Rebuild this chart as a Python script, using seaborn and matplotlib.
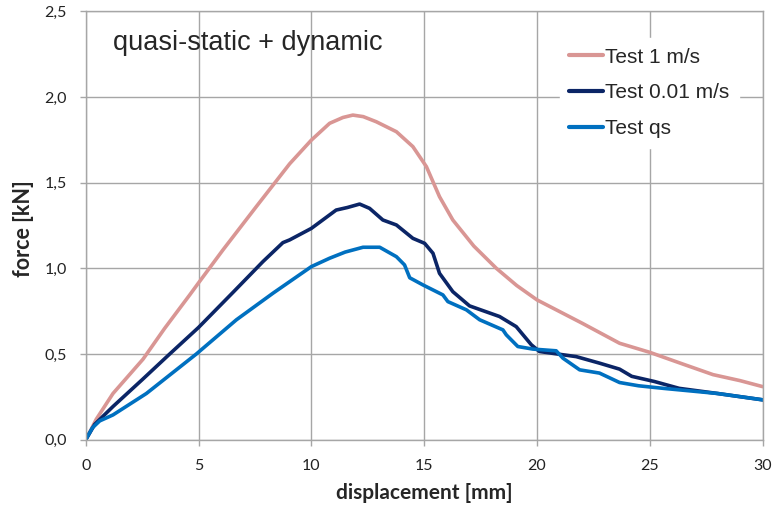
import pandas as pd
import matplotlib.pyplot as plt
import seaborn as sns
from matplotlib.ticker import FuncFormatter

# Valores (deslocamento em mm, força em kN)
x_1ms = [0, 0.2, 0.47, 1.21, 2.54, 3.5, 4.61, 5.0, 6.08, 7.56, 9.04, 10.0, 10.81, 11.4,
         11.84, 12.3, 12.88, 13.77, 14.5, 15.1, 15.68, 16.27, 17.2, 18.2, 19.1, 20.0,
         22.0, 23.66, 25.0, 26.5, 27.8, 29.0, 30.0]
f_1ms = [0, 0.05, 0.12, 0.27, 0.47, 0.65, 0.845, 0.915, 1.107, 1.36, 1.61, 1.748, 1.846, 1.88,
         1.894, 1.885, 1.855, 1.797, 1.71, 1.593, 1.418, 1.282, 1.13, 1.0, 0.9, 0.816,
         0.68, 0.563, 0.51, 0.44, 0.38, 0.345, 0.31]

x_001 = [0, 0.4, 1.21, 2.5, 3.72, 5.0, 6.53, 7.86, 8.74, 9.04, 10.0, 11.1, 11.6, 12.14, 12.58,
         13.17, 13.77, 14.5, 15.02, 15.39, 15.68, 16.27, 17.01, 18.34, 19.08, 19.75, 20.11,
         21.74, 22.77, 23.66, 24.2, 25.2, 26.3, 28.0, 30.0]
f_001 = [0, 0.09, 0.194, 0.35, 0.5, 0.655, 0.86, 1.04, 1.15, 1.166, 1.233, 1.34, 1.355, 1.375,
         1.35, 1.282, 1.253, 1.175, 1.146, 1.088, 0.971, 0.864, 0.781, 0.719, 0.66, 0.554,
         0.515, 0.485, 0.447, 0.412, 0.37, 0.34, 0.30, 0.27, 0.233]

x_qs = [0, 0.3, 0.62, 1.21, 2.69, 4.9, 6.68, 8.3, 10.0, 10.81, 11.5, 12.29, 13.03, 13.77,
        14.13, 14.36, 14.95, 15.83, 16.05, 16.87, 17.46, 18.49, 18.64, 19.15, 19.82, 20.85,
        21.15, 21.89, 22.77, 23.66, 24.5, 25.6, 28.0, 30.0]
f_qs = [0, 0.07, 0.11, 0.145, 0.27, 0.5, 0.70, 0.855, 1.01, 1.059, 1.095, 1.123, 1.123, 1.068,
        1.02, 0.945, 0.903, 0.845, 0.806, 0.758, 0.70, 0.641, 0.612, 0.544, 0.529, 0.519,
        0.476, 0.408, 0.389, 0.334, 0.315, 0.30, 0.27, 0.233]

series_names = ["Test 1 m/s", "Test 0.01 m/s", "Test qs"]
cores = ["#D99694", "#0B2566", "#0070C0"]

df = pd.concat([
    pd.DataFrame({"desl": x_1ms, "forca": f_1ms, "teste": series_names[0]}),
    pd.DataFrame({"desl": x_001, "forca": f_001, "teste": series_names[1]}),
    pd.DataFrame({"desl": x_qs, "forca": f_qs, "teste": series_names[2]}),
])

sns.set_style("white")
plt.rcParams["font.family"] = ["Liberation Sans", "DejaVu Sans"]

fig = plt.figure(figsize=(7.79, 5.09), dpi=100)
ax = fig.add_axes([0.110, 0.136, 0.869, 0.842])

sns.lineplot(data=df, x="desl", y="forca", hue="teste", palette=cores,
             linewidth=2.6, sort=False, estimator=None, ax=ax)

ax.set_xlim(0, 30)
ax.set_ylim(0, 2.5)
ax.set_xticks(range(0, 31, 5))
ax.set_yticks([0, 0.5, 1.0, 1.5, 2.0, 2.5])
ax.yaxis.set_major_formatter(FuncFormatter(lambda v, p: f"{v:.1f}".replace(".", ",")))
ax.tick_params(labelsize=11.5, length=4.5, width=1, color="#A6A6A6", pad=9,
               left=True, bottom=True, labelcolor="#222222")
for lbl in ax.get_xticklabels() + ax.get_yticklabels():
    lbl.set_family("Lato")
ax.grid(True, color="#A6A6A6", linewidth=1)
for s in ax.spines.values():
    s.set_color("#A6A6A6")
    s.set_linewidth(1)

ax.set_xlabel("displacement [mm]", fontsize=15, fontweight="bold", family="Lato")
ax.set_ylabel("force [kN]", fontsize=15.5, fontweight="bold", family="Lato")
ax.xaxis.set_label_coords(0.5, -0.1)
ax.yaxis.set_label_coords(-0.076, 0.492)

ax.text(0.04, 0.925, "quasi-static + dynamic", transform=ax.transAxes,
        fontsize=19.5, va="center", ha="left")

leg = ax.legend(loc="upper left", bbox_to_anchor=(0.700, 0.937), fontsize=15,
                frameon=True, handlelength=1.63, handletextpad=0.1, labelspacing=0.81,
                borderpad=0.45, borderaxespad=0)
leg.get_frame().set_edgecolor("white")
leg.get_frame().set_facecolor("white")
leg.get_frame().set_alpha(1)
leg.get_frame().set_boxstyle("square", pad=0)
for ln in leg.get_lines():
    ln.set_linewidth(3)

plt.savefig("out.png", dpi=100)
